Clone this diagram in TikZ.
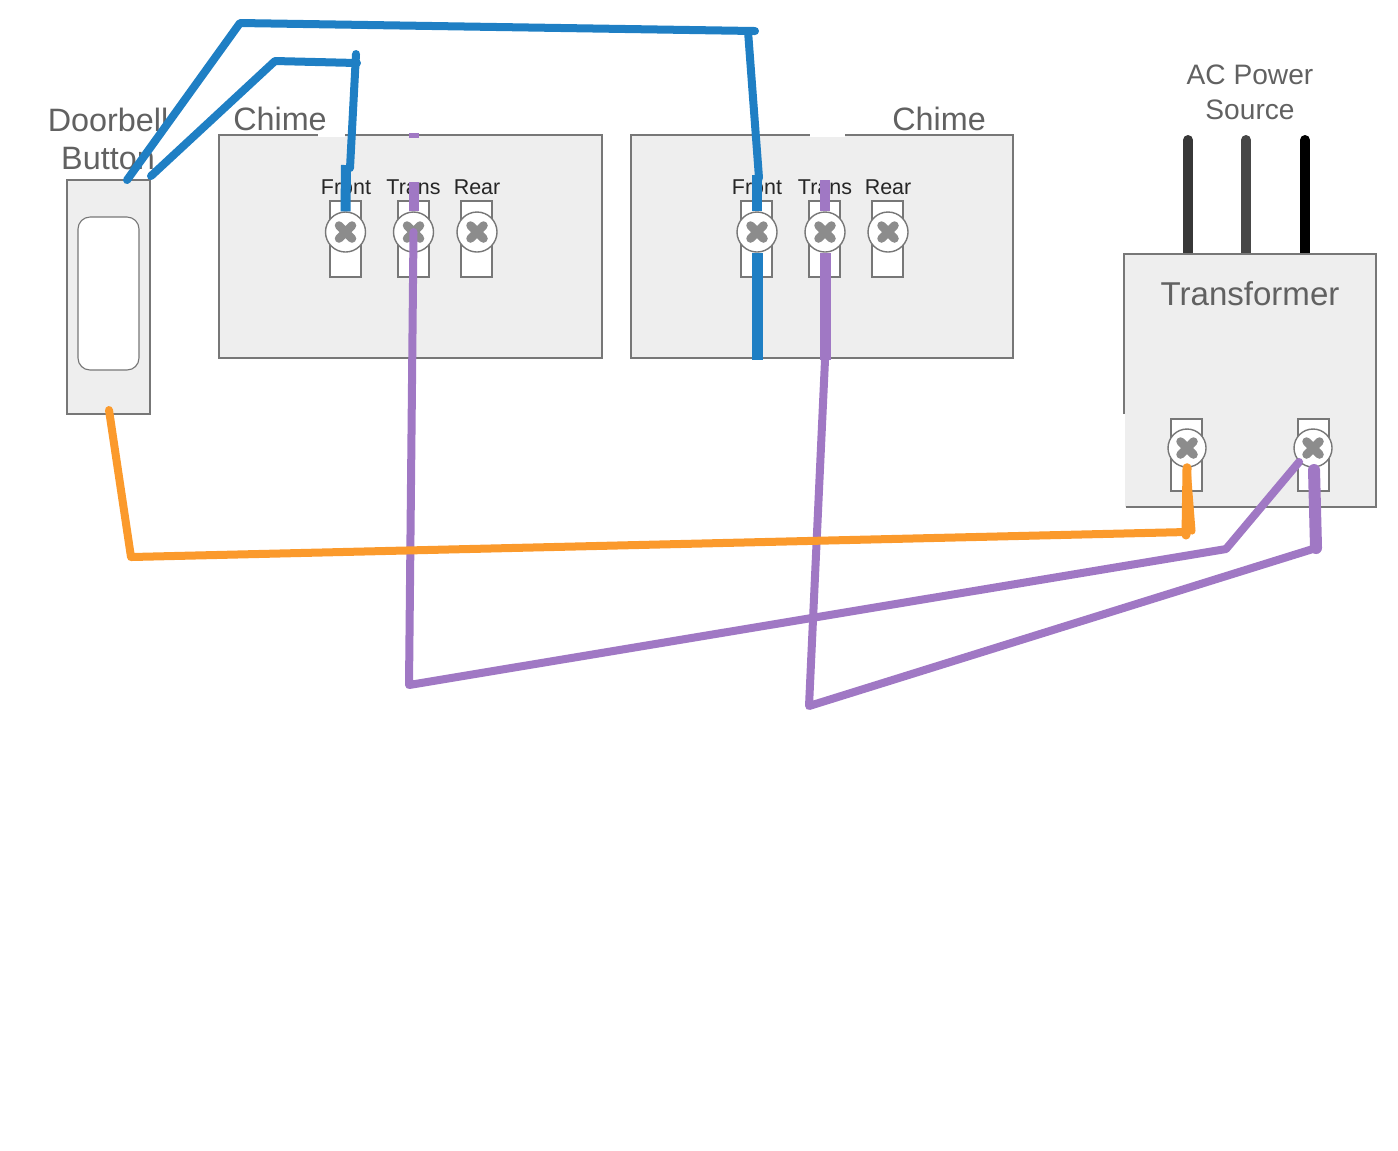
\documentclass[tikz,border=0pt]{standalone}
\usepackage{fontspec}
\setmainfont{Liberation Sans}
\definecolor{boxfill}{HTML}{EEEEEE}
\definecolor{boxline}{HTML}{777777}
\definecolor{wireblue}{HTML}{1F7FC4}
\definecolor{wirepurple}{HTML}{A078C4}
\definecolor{wireorange}{HTML}{FB9A2C}
\tikzset{
  panel/.style={draw=boxline,fill=boxfill,line width=.32pt},
  slot/.style={draw=boxline,fill=white,line width=.32pt},
  screw/.style={circle,draw=boxline,fill=white,line width=.4pt,minimum size=.4cm,inner sep=0pt,
    path picture={\draw[gray!90,line width=.085cm,line cap=round]
      (path picture bounding box.center) +(-6.5,-6.5) -- +(6.5,6.5) +(-6.5,6.5) -- +(6.5,-6.5);}},
  title/.style={text=black!62,font=\fontsize{9.2}{11}\selectfont},
  term/.style={text=black!85,font=\fontsize{6.1}{7}\selectfont},
  wire/.style={line width=.08cm,line cap=round,line join=round},
  stub/.style={line width=.1cm,line cap=butt},
  cord/.style={line width=.1cm,line cap=round}
}
\begin{document}
\begin{tikzpicture}[x=.01cm,y=-.01cm]
        \useasboundingbox (0,0) rectangle (1398,1150);

        % power cords
        \draw[cord,black!78] (1188,140) -- (1188,260);
        \draw[cord,black!72] (1246,140) -- (1246,260);
        \draw[cord,black] (1305,140) -- (1305,260);

        % boxes
        \draw[panel] (67,180) rectangle (150,414);
        \draw[draw=boxline,fill=white,line width=.32pt,rounded corners=.12cm] (78,217) rectangle (139,370);
        \draw[panel] (219,135) rectangle (602,358);
        \draw[panel] (631,135) rectangle (1013,358);
        \fill[white] (318,131) rectangle (345,137);
        \fill[white] (810,130) rectangle (845,137);
        \fill[boxfill] (1125,254) rectangle (1376,507);
        \draw[boxline,line width=.32pt] (1124,414) -- (1124,254) -- (1376,254) -- (1376,507) -- (1126,507);

        % terminals
        \foreach \x in {330,398,461,741,809,872}
          \draw[slot] (\x,201) rectangle ++(31,76);
        \foreach \x in {1171,1298}
          \draw[slot] (\x,419) rectangle ++(31,72);

        \begin{scope}[every node/.style={term}]
          \node at (346,187) {Front};
          \node at (413.5,187) {Trans};
          \node at (477,187) {Rear};
          \node at (757,187) {Front};
          \node at (825,187) {Trans};
          \node at (888,187) {Rear};
        \end{scope}

        \begin{scope}[every node/.style={title}]
          \node at (108,120) {Doorbell};
          \node at (108,159) {Button};
          \node at (280,119) {Chime};
          \node at (939,119) {Chime};
          \node[font=\fontsize{8}{10}\selectfont] at (1250,75) {AC Power};
          \node[font=\fontsize{8}{10}\selectfont] at (1250,110) {Source};
          \node[font=\fontsize{9.4}{11}\selectfont] at (1250,294) {Transformer};
        \end{scope}

        \begin{scope}[every node/.style={screw}]
          \node (f1) at (345.5,232) {};
          \node (t1) at (413.5,232) {};
          \node (r1) at (477,232) {};
          \node (f2) at (757,232) {};
          \node (t2) at (825,232) {};
          \node (r2) at (888,232) {};
          \node[minimum size=.38cm] (a) at (1187,448) {};
          \node[minimum size=.38cm] (b) at (1313,448) {};
        \end{scope}

        % end points and corners of the wires
        \coordinate (p1) at (127,180);
        \coordinate (p2) at (240,23);
        \coordinate (p3) at (755,31);
        \coordinate (p4) at (748,31);
        \coordinate (p5) at (759,178);
        \coordinate (q1) at (151,176);
        \coordinate (q2) at (275,61);
        \coordinate (q3) at (357,63);
        \coordinate (q4) at (356,54);
        \coordinate (q5) at (350,168);
        \coordinate (u1) at (346,165);
        \coordinate (u2) at (757,175);
        \coordinate (u3) at (757,360);
        \coordinate (v1) at (413.5,182);
        \coordinate (v2) at (825,180);
        \coordinate (v3) at (825,360);
        \coordinate (w1) at (409,685);
        \coordinate (w2) at (1226,549);
        \coordinate (w3) at (809,706);
        \coordinate (w4) at (1316,548);
        \coordinate (w5) at (1314,470);
        \coordinate (o1) at (109,410);
        \coordinate (o2) at (131,557);
        \coordinate (o3) at (1186,532);

        % wires
        \draw[wire,wireblue] (p1) -- (p2) -- (p3) (p4) -- (p5);
        \draw[wire,wireblue] (q1) -- (q2) -- (q3) (q4) -- (q5);
        \draw[stub,wireblue] (u1) -- (f1.north);
        \draw[stub,wireblue] (u2) -- (f2.north);
        \draw[stub,wireblue,line width=.11cm] (f2.south) -- (u3);

        \fill[wirepurple] (409,133) rectangle (419,138);
        \draw[stub,wirepurple] (v1) -- (t1.north);
        \draw[stub,wirepurple] (v2) -- (t2.north);
        \draw[stub,wirepurple,line width=.11cm] (t2.south) -- (v3);
        \draw[wire,wirepurple] (t1.center) -- (w1) -- (w2) -- (b.225);
        \draw[wire,wirepurple] (v3) -- (w3) -- (w4);
        \draw[wirepurple,line width=.12cm,line cap=round] (w5) -- (w4);

        \draw[wire,wireorange] (o1) -- (o2) -- (o3);
        \draw[wireorange,line width=.09cm,line cap=round] (a.south) -- (1186,535);
        \draw[wireorange,line width=.07cm,line cap=round] (a.south) -- (1192,531);

      \end{tikzpicture}
\end{document}
